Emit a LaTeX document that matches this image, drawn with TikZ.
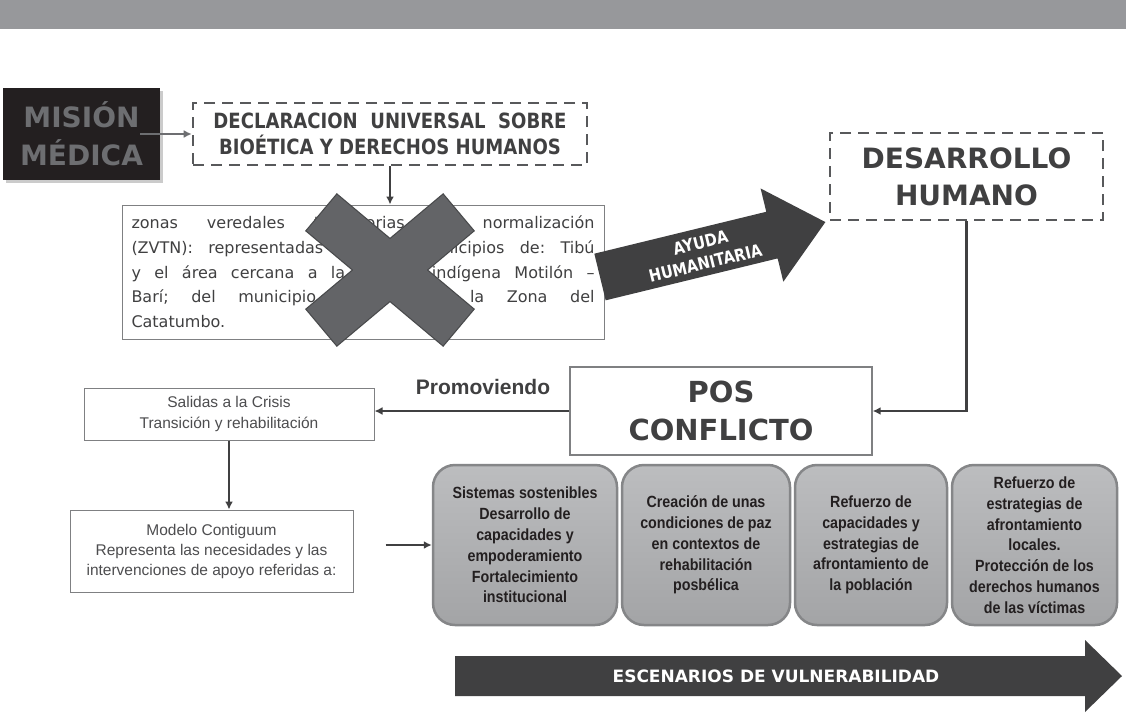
\documentclass[tikz,border=0pt]{standalone}
\usepackage{fontspec}
\setmainfont{Liberation Sans}
\newfontfamily\tah[FakeStretch=0.86]{DejaVu Sans}
\newfontfamily\verd{DejaVu Sans}
\newfontfamily\narrow[FakeStretch=0.88]{Liberation Sans}
\usetikzlibrary{arrows.meta,shadows}
\definecolor{band}{HTML}{97989B}
\definecolor{ink}{HTML}{404041}
\definecolor{blk}{HTML}{231F20}
\definecolor{mtxt}{HTML}{6D6E71}
\definecolor{dash}{HTML}{58595B}
\definecolor{xcol}{HTML}{636467}
\definecolor{xedge}{HTML}{48494B}
\definecolor{boxtop}{HTML}{BCBDBF}
\definecolor{boxbot}{HTML}{A3A4A6}
\definecolor{boxedge}{HTML}{858688}
\definecolor{thin}{HTML}{7F8082}
\definecolor{soft}{HTML}{4D4D4F}
\newcommand{\jline}[1]{\leavevmode\hbox to 463pt{#1}}
\tikzset{
  dashbox/.style={draw=dash, line width=2.6pt, dash pattern=on 11pt off 7pt, fill=white, inner sep=0pt},
  plainbox/.style={draw=thin, line width=1pt, fill=white, inner sep=0pt, align=center, text=soft},
  graybox/.style={draw=boxedge, line width=2.5pt, rounded corners=22pt, top color=boxtop, bottom color=boxbot,
     inner sep=0pt, align=center, text=blk, font=\narrow\bfseries\fontsize{16.2}{20.8}\selectfont},
  conn/.style={draw=ink, line width=2.6pt, -{Latex[length=8pt,width=8pt]}},
  bigarrow/.style={fill=ink},
}
\begin{document}
\begin{tikzpicture}[x=1pt,y=-1pt]
\useasboundingbox (0,0) rectangle (1126,715);
\fill[white] (0,0) rectangle (1126,715);
\fill[band] (0,0) rectangle (1126,29);

% MISION MEDICA
\node[fill=blk, minimum width=157pt, minimum height=92pt, inner sep=0pt, align=center, text=mtxt,
      drop shadow={shadow xshift=3pt, shadow yshift=-3pt, fill=black!40},
      font=\verd\bfseries\fontsize{28}{38}\selectfont] (mis) at (81.5,134) {MISIÓN\\MÉDICA};

% Declaracion
\node[dashbox, minimum width=394pt, minimum height=62pt, align=center, text=ink,
      font=\tah\bfseries\fontsize{21}{26}\selectfont] (dec) at (390,134)
      {DECLARACION\ \ UNIVERSAL\ \ SOBRE\\BIOÉTICA Y DERECHOS HUMANOS};

% Zonas text box
\node[draw=thin, line width=1pt, fill=white, minimum width=482pt, minimum height=134pt, inner sep=0pt,
      text width=463pt, align=left, text=ink, font=\verd\fontsize{16}{24.7}\selectfont] (zv) at (363,272)
  {\jline{zonas\hfill veredales\hfill transitorias\hfill de\hfill normalización}\\
   \jline{(ZVTN):\hfill representadas\hfill por\hfill los\hfill municipios\hfill de:\hfill Tibú}\\
   \jline{y\hfill el\hfill área\hfill cercana\hfill a\hfill la\hfill reserva\hfill indígena\hfill Motilón\hfill –}\\
   \jline{Barí;\hfill del\hfill municipio\hfill de\hfill Tibú\hfill y\hfill la\hfill Zona\hfill del}\\
   Catatumbo.};

% the big X
\begin{scope}[shift={(390,270)}]
  \foreach \a in {40,-40} {
    \draw[xedge, line width=2.4pt, rotate=\a] (-89,-23.5) -- (89,-23.5) -- (89,23.5) -- (-89,23.5) -- cycle;
  }
  \foreach \a in {40,-40} {
    \fill[xcol, rotate=\a] (-89,-23.5) -- (89,-23.5) -- (89,23.5) -- (-89,23.5) -- cycle;
  }
\end{scope}

% Ayuda humanitaria arrow
\begin{scope}[shift={(600,277)}, rotate=13.7]
  \fill[bigarrow] (0,-24) -- (177,-24) -- (177,-48) -- (232,0) -- (177,48) -- (177,24) -- (0,24) -- cycle;
\end{scope}
\node[rotate=13.7, text=white, align=center, inner sep=0pt,
      font=\tah\bfseries\fontsize{17}{21}\selectfont] (ayu) at (703,253) {AYUDA\\HUMANITARIA};

% Desarrollo humano
\node[dashbox, minimum width=273pt, minimum height=87pt, align=center, text=ink,
      font=\verd\bfseries\fontsize{28}{37}\selectfont] (des) at (966.5,176.5) {DESARROLLO\\HUMANO};

% Pos conflicto
\node[draw=thin, line width=1.4pt, fill=white, minimum width=302pt, minimum height=88pt, inner sep=0pt,
      align=center, text=ink, font=\verd\bfseries\fontsize{29}{38}\selectfont] (pos) at (721,411) {POS\\CONFLICTO};

\node[text=ink, inner sep=0pt, font=\bfseries\fontsize{21}{24}\selectfont] (prom) at (483,387) {Promoviendo};

% Salidas
\node[plainbox, minimum width=290pt, minimum height=52pt, font=\fontsize{15.5}{21}\selectfont] (sal) at (229,414)
  {Salidas a la Crisis\\Transición y rehabilitación};

% Modelo
\node[plainbox, minimum width=283pt, minimum height=82pt, font=\fontsize{15.5}{20}\selectfont] (mod) at (211.5,551)
  {Modelo Contiguum\\Representa las necesidades y las\\intervenciones de apoyo referidas a:};

% gray boxes
\node[graybox, minimum width=184pt, minimum height=160pt] (b1) at (525,545)
  {Sistemas sostenibles\\Desarrollo de\\capacidades y\\empoderamiento\\Fortalecimiento\\institucional};
\node[graybox, minimum width=168pt, minimum height=160pt] (b2) at (706,545)
  {Creación de unas\\condiciones de paz\\en contextos de\\rehabilitación\\posbélica};
\node[graybox, minimum width=152pt, minimum height=160pt] (b3) at (871,545)
  {Refuerzo de\\capacidades y\\estrategias de\\afrontamiento de\\la población};
\node[graybox, minimum width=165pt, minimum height=160pt] (b4) at (1034.5,545)
  {Refuerzo de\\estrategias de\\afrontamiento\\locales.\\Protección de los\\derechos humanos\\de las víctimas};

% bottom arrow
\fill[bigarrow] (455,656) -- (1085,656) -- (1085,640) -- (1122,676) -- (1085,712) -- (1085,696) -- (455,696) -- cycle;
\node[text=white, inner sep=0pt, font=\verd\bfseries\fontsize{17}{20}\selectfont] (esc) at (776,676) {ESCENARIOS DE VULNERABILIDAD};

% connectors
\draw[draw=mtxt, line width=2.4pt, -{Latex[length=8pt,width=8pt]}] ([xshift=-20pt]mis.east) -- (dec.west);
\draw[conn] (dec.south) -- (dec.south |- zv.north);
\draw[conn] (des.south) |- (pos.east);
\draw[conn] (pos.west) -- (pos.west -| sal.east);
\draw[conn] (sal.south) -- (sal.south |- mod.north);
\draw[conn] ([xshift=32pt]mod.east |- b1.west) -- (b1.west);
\end{tikzpicture}
\end{document}
